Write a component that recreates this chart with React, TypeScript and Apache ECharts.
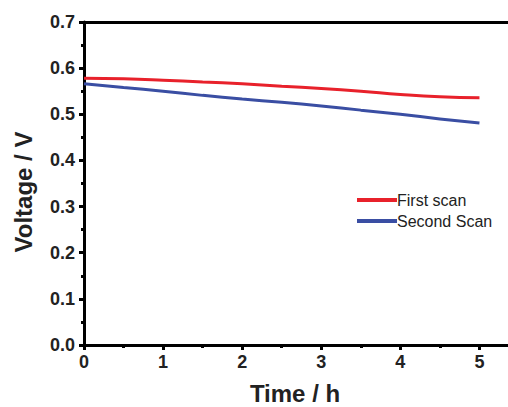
import React, { useEffect, useRef } from "react";
import * as echarts from "echarts";

const timeH = [0, 0.5, 1, 1.5, 2, 2.5, 3, 3.5, 4, 4.5, 5];
const firstScan = [0.578, 0.577, 0.574, 0.57, 0.566, 0.561, 0.556, 0.55, 0.543, 0.538, 0.536];
const secondScan = [0.566, 0.558, 0.55, 0.541, 0.533, 0.526, 0.518, 0.509, 0.5, 0.49, 0.481];
const seriesNames = ["First scan", "Second Scan"];
const xTitle = "Time / h";
const yTitle = "Voltage / V";

const FONT = "'Liberation Sans', Arial, Helvetica, sans-serif";

export default function App() {
  const ref = useRef<HTMLDivElement>(null);
  useEffect(() => {
    if (!ref.current) return;
    const chart = echarts.init(ref.current, null, { renderer: "svg" });
    const axisLine = { show: true, lineStyle: { color: "#000", width: 3 } };
    chart.setOption({
      animation: false,
      backgroundColor: "#fff",
      grid: { left: 84, top: 22, width: 435, height: 323 },
      legend: {
        orient: "vertical",
        left: 352,
        top: 187,
        itemWidth: 40,
        itemHeight: 4,
        itemGap: 5,
        icon: "rect",
        textStyle: { fontFamily: FONT, fontSize: 16, color: "#222", padding: [0, 0, 0, -5] },
        data: seriesNames,
      },
      xAxis: [
        {
          type: "value",
          min: 0,
          max: 5.5,
          interval: 1,
          axisLine: { ...axisLine, onZero: false },
          axisTick: { show: true, length: 5, lineStyle: { color: "#000", width: 3 } },
          minorTick: { show: true, splitNumber: 2, length: 3, lineStyle: { color: "#000", width: 3 } },
          splitLine: { show: false },
          axisLabel: {
            margin: 8,
            fontFamily: FONT,
            fontSize: 18,
            fontWeight: "bold",
            color: "#222",
            formatter: (v: number) => (Number.isInteger(v) ? String(v) : ""),
          },
        },
        {
          type: "value",
          position: "top",
          min: 0,
          max: 5.5,
          axisLine: { ...axisLine, onZero: false },
          axisTick: { show: false },
          axisLabel: { show: false },
          splitLine: { show: false },
        },
      ],
      yAxis: {
        type: "value",
        min: 0,
        max: 0.7,
        interval: 0.1,
        axisLine: { ...axisLine, onZero: false },
        axisTick: { show: true, length: 5, lineStyle: { color: "#000", width: 3 } },
        minorTick: { show: true, splitNumber: 2, length: 3, lineStyle: { color: "#000", width: 3 } },
        splitLine: { show: false },
        axisLabel: {
          margin: 9,
          fontFamily: FONT,
          fontSize: 18,
          fontWeight: "bold",
          color: "#222",
          formatter: (v: number) => v.toFixed(1),
        },
      },
      graphic: [
        {
          type: "text",
          x: 295,
          y: 393,
          style: {
            text: xTitle,
            font: `bold 24px ${FONT}`,
            fill: "#222",
            align: "center",
            verticalAlign: "middle",
          },
        },
        {
          type: "text",
          x: 23,
          y: 192,
          rotation: Math.PI / 2,
          style: {
            text: yTitle,
            font: `bold 24px ${FONT}`,
            fill: "#222",
            align: "center",
            verticalAlign: "middle",
          },
        },
      ],
      series: [
        {
          name: seriesNames[0],
          type: "line",
          data: timeH.map((t, i) => [t, firstScan[i]]),
          smooth: true,
          showSymbol: false,
          lineStyle: { color: "#e8212b", width: 3 },
          itemStyle: { color: "#e8212b" },
        },
        {
          name: seriesNames[1],
          type: "line",
          data: timeH.map((t, i) => [t, secondScan[i]]),
          smooth: true,
          showSymbol: false,
          lineStyle: { color: "#3a4ea3", width: 3 },
          itemStyle: { color: "#3a4ea3" },
        },
      ],
    });
    return () => chart.dispose();
  }, []);
  return (
    <div
      style={{
        position: "absolute",
        left: 0,
        top: 0,
        width: 508,
        height: 407,
        overflow: "hidden",
        background: "#fff",
      }}
    >
      <div ref={ref} style={{ width: 540, height: 407 }} />
    </div>
  );
}
